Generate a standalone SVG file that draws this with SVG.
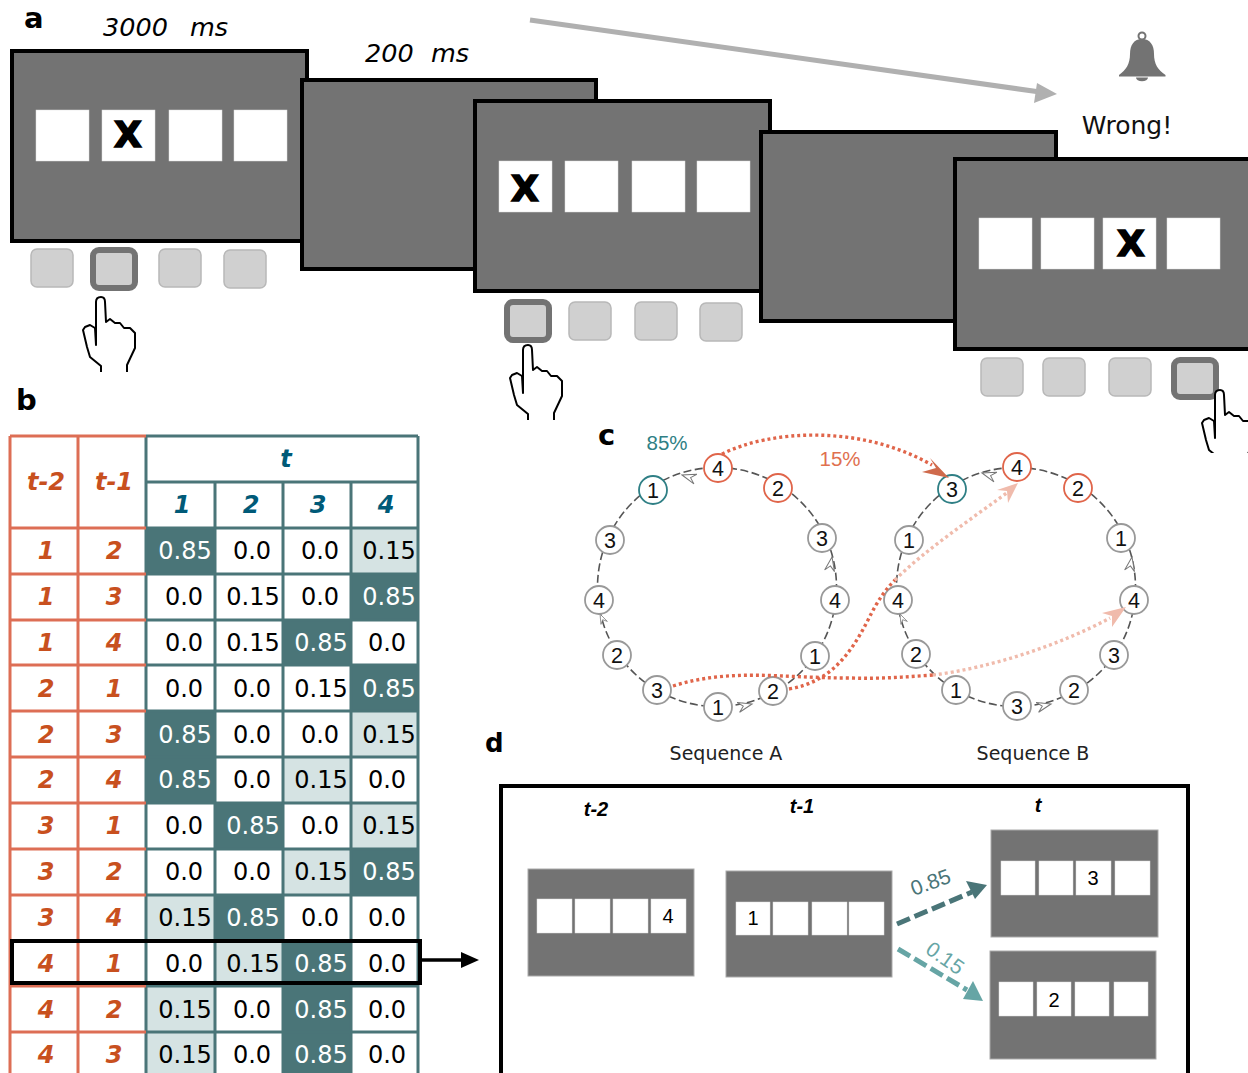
<svg xmlns="http://www.w3.org/2000/svg" width="1248" height="1073" viewBox="0 0 1248 1073">
<style>
text{font-family:"DejaVu Sans",sans-serif}
.scr{fill:#737373;stroke:#000;stroke-width:4}
.sq{fill:#fff;stroke:#ddd;stroke-width:.5}
.x{font-weight:700;font-size:36px;text-anchor:middle;font-family:"DejaVu Sans",sans-serif;stroke:#000;stroke-width:1.6}
.btn{fill:#d0d0d0;stroke:#b8b8b8;stroke-width:1.5}
.sel{fill:#d0d0d0;stroke:#737373;stroke-width:6}
.hand{fill:#fff;stroke:#000;stroke-width:2;stroke-linejoin:round}
.lab{font-weight:700;font-size:29px}
.ms{font-style:italic;font-size:25.5px}
.ring{fill:none;stroke:#555;stroke-width:1.6;stroke-dasharray:8 3.5}
.n{fill:#fff;stroke:#999;stroke-width:1.8}
.nr{fill:#fff;stroke:#e0654a;stroke-width:1.8}
.nt{fill:#fff;stroke:#2f7f85;stroke-width:1.8}
.d{font-family:"Liberation Sans",Arial,sans-serif;font-size:21.5px;text-anchor:middle;fill:#111}
.oa{fill:#fff;stroke:#777;stroke-width:1}
.dot{fill:none;stroke:#e0654a;stroke-width:3.4;stroke-dasharray:3 3}
.pale{fill:none;stroke:#f0bbac;stroke-width:3.4;stroke-dasharray:3 3}
.hr{fill:none;stroke:#dd6e55;stroke-width:3}
.ht{fill:none;stroke:#4a7578;stroke-width:3}
.r{font-weight:700;font-style:italic;font-size:24px;fill:#c8501e;text-anchor:middle}
.b{font-weight:700;font-style:italic;font-size:24px;fill:#005a78;text-anchor:middle}
.v{font-size:24px;text-anchor:middle;fill:#000}
.w{font-size:24px;text-anchor:middle;fill:#fff}
.dk{fill:#4a7578}
.lt{fill:#d5e3e3}
.tl{font-family:"Liberation Sans",Arial,sans-serif;font-weight:700;font-style:italic;font-size:20px;text-anchor:middle}
.pd{font-family:"Liberation Sans",Arial,sans-serif;font-size:20px;text-anchor:middle}
.pc{font-family:"Liberation Sans",Arial,sans-serif;font-size:20.5px;text-anchor:middle}
.pb{font-family:"Liberation Sans",Arial,sans-serif;font-size:21px;text-anchor:middle}
.ds{fill:#737373;stroke:#aaa;stroke-width:1}
.seq{font-size:19px;text-anchor:middle;fill:#222}
</style>
<defs>
<path id="hand" class="hand" d="M101 372V366L90 357L87 347L83 330L85 327L90 325L95 328L96 345V302Q96 297 101 297Q105 297 105 302L106 322L110 319L115 323L120 323L124 328L130 328L135 333V348L127 365V372"/>
<path id="oah" class="oa" d="M0 0L-14 -5L-9 0L-14 5Z"/>
<clipPath id="clip3"><rect x="1150" y="380" width="98" height="73"/></clipPath>
</defs>
<text class="lab" x="24" y="28">a</text>
<text class="ms" x="103" y="36">3000</text><text class="ms" x="190" y="36">ms</text>
<text class="ms" x="365" y="62">200</text><text class="ms" x="431" y="62">ms</text>
<g id="screen-a1"><rect class="scr" x="12" y="51" width="295" height="190"/>
<rect class="sq" x="36" y="110" width="53" height="51"/><rect class="sq" x="102" y="110" width="53" height="51"/><rect class="sq" x="169" y="110" width="53" height="51"/><rect class="sq" x="234" y="110" width="53" height="51"/>
<text class="x" x="128" y="147">X</text></g>
<g id="buttons-a1"><rect class="btn" x="31" y="249" width="42" height="38" rx="6"/><rect class="sel" x="93" y="250" width="42" height="38" rx="6"/><rect class="btn" x="159" y="249" width="42" height="38" rx="6"/><rect class="btn" x="224" y="250" width="42" height="38" rx="6"/>
<use href="#hand"/></g>
<g id="screen-a2"><rect class="scr" x="302" y="80" width="294" height="189"/></g>
<g id="screen-a3"><rect class="scr" x="475" y="101" width="295" height="190"/>
<rect class="sq" x="499" y="161" width="53" height="51"/><rect class="sq" x="565" y="161" width="53" height="51"/><rect class="sq" x="632" y="161" width="53" height="51"/><rect class="sq" x="697" y="161" width="53" height="51"/>
<text class="x" x="525" y="201">X</text></g>
<g id="buttons-a3"><rect class="sel" x="507" y="302" width="42" height="38" rx="6"/><rect class="btn" x="569" y="302" width="42" height="38" rx="6"/><rect class="btn" x="635" y="302" width="42" height="38" rx="6"/><rect class="btn" x="700" y="303" width="42" height="38" rx="6"/>
<use href="#hand" x="427" y="48"/></g>
<g id="screen-a4"><rect class="scr" x="761" y="132" width="295" height="189"/></g>
<g id="screen-a5"><rect class="scr" x="955" y="159" width="300" height="190"/>
<rect class="sq" x="979" y="218" width="53" height="51"/><rect class="sq" x="1041" y="218" width="53" height="51"/><rect class="sq" x="1103" y="218" width="53" height="51"/><rect class="sq" x="1167" y="218" width="53" height="51"/>
<text class="x" x="1131" y="256">X</text></g>
<g id="buttons-a5"><rect class="btn" x="981" y="358" width="42" height="38" rx="6"/><rect class="btn" x="1043" y="358" width="42" height="38" rx="6"/><rect class="btn" x="1109" y="358" width="42" height="38" rx="6"/><rect class="sel" x="1174" y="360" width="42" height="37" rx="6"/>
<g clip-path="url(#clip3)"><use href="#hand" x="1119" y="93"/></g></g>
<g id="alert"><path d="M530 20L1040 92" stroke="#b0b0b0" stroke-width="5" fill="none"/><path d="M1057 94L1034 103L1037 83Z" fill="#b0b0b0"/>
<circle cx="1142" cy="36" r="3.500" fill="#fff" stroke="#737373" stroke-width="2"/>
<path fill="#737373" d="M1142 39C1134 39 1130 45 1130 54C1130 64 1126 70 1119 75V76.500H1165.500V75C1158 70 1154 64 1154 54C1154 45 1150 39 1142 39ZM1136 77.500H1148A6 3.800 0 0 1 1136 77.500Z"/>
<text x="1127" y="134" font-size="25" text-anchor="middle" fill="#111">Wrong!</text></g>

<text class="lab" x="16" y="410">b</text>
<g id="table">
<rect class="dk" x="146" y="528" width="69" height="46"/><rect class="lt" x="351" y="528" width="67" height="46"/>
<rect class="dk" x="351" y="574" width="67" height="46"/>
<rect class="dk" x="283" y="620" width="68" height="46"/>
<rect class="dk" x="351" y="665" width="67" height="46"/>
<rect class="dk" x="146" y="711" width="69" height="46"/><rect class="lt" x="351" y="711" width="67" height="46"/>
<rect class="dk" x="146" y="757" width="69" height="46"/><rect class="lt" x="283" y="757" width="68" height="46"/>
<rect class="dk" x="215" y="803" width="68" height="46"/><rect class="lt" x="351" y="803" width="67" height="46"/>
<rect class="lt" x="283" y="849" width="68" height="46"/><rect class="dk" x="351" y="849" width="67" height="46"/>
<rect class="lt" x="146" y="895" width="69" height="46"/><rect class="dk" x="215" y="895" width="68" height="46"/>
<rect class="lt" x="215" y="941" width="68" height="46"/><rect class="dk" x="283" y="941" width="68" height="46"/>
<rect class="lt" x="146" y="986" width="69" height="46"/><rect class="dk" x="283" y="986" width="68" height="46"/>
<rect class="lt" x="146" y="1032" width="69" height="46"/><rect class="dk" x="283" y="1032" width="68" height="46"/>
<path class="ht" d="M146 436V1078M215 482V1078M283 482V1078M351 482V1078M418 436V1078M146 436H418M146 482H418M146 528H418M146 574H418M146 620H418M146 665H418M146 711H418M146 757H418M146 803H418M146 849H418M146 895H418M146 941H418M146 986H418M146 1032H418"/>
<path class="hr" d="M10 436V1078M78 436V1078M10 436H146M10 528H146M10 574H146M10 620H146M10 665H146M10 711H146M10 757H146M10 803H146M10 849H146M10 895H146M10 941H146M10 986H146M10 1032H146"/>
<text class="b" x="286" y="467">t</text><text class="b" x="182" y="513">1</text><text class="b" x="251" y="513">2</text><text class="b" x="318" y="513">3</text><text class="b" x="386" y="513">4</text>
<text class="r" x="46" y="490">t-2</text><text class="r" x="114" y="490">t-1</text>
<text class="r" x="46" y="559">1</text><text class="r" x="114" y="559">2</text><text class="w" x="185" y="559">0.85</text><text class="v" x="252" y="559">0.0</text><text class="v" x="320" y="559">0.0</text><text class="v" x="389" y="559">0.15</text>
<text class="r" x="46" y="605">1</text><text class="r" x="114" y="605">3</text><text class="v" x="184" y="605">0.0</text><text class="v" x="253" y="605">0.15</text><text class="v" x="320" y="605">0.0</text><text class="w" x="389" y="605">0.85</text>
<text class="r" x="46" y="651">1</text><text class="r" x="114" y="651">4</text><text class="v" x="184" y="651">0.0</text><text class="v" x="253" y="651">0.15</text><text class="w" x="321" y="651">0.85</text><text class="v" x="387" y="651">0.0</text>
<text class="r" x="46" y="697">2</text><text class="r" x="114" y="697">1</text><text class="v" x="184" y="697">0.0</text><text class="v" x="252" y="697">0.0</text><text class="v" x="321" y="697">0.15</text><text class="w" x="389" y="697">0.85</text>
<text class="r" x="46" y="743">2</text><text class="r" x="114" y="743">3</text><text class="w" x="185" y="743">0.85</text><text class="v" x="252" y="743">0.0</text><text class="v" x="320" y="743">0.0</text><text class="v" x="389" y="743">0.15</text>
<text class="r" x="46" y="788">2</text><text class="r" x="114" y="788">4</text><text class="w" x="185" y="788">0.85</text><text class="v" x="252" y="788">0.0</text><text class="v" x="321" y="788">0.15</text><text class="v" x="387" y="788">0.0</text>
<text class="r" x="46" y="834">3</text><text class="r" x="114" y="834">1</text><text class="v" x="184" y="834">0.0</text><text class="w" x="253" y="834">0.85</text><text class="v" x="320" y="834">0.0</text><text class="v" x="389" y="834">0.15</text>
<text class="r" x="46" y="880">3</text><text class="r" x="114" y="880">2</text><text class="v" x="184" y="880">0.0</text><text class="v" x="252" y="880">0.0</text><text class="v" x="321" y="880">0.15</text><text class="w" x="389" y="880">0.85</text>
<text class="r" x="46" y="926">3</text><text class="r" x="114" y="926">4</text><text class="v" x="185" y="926">0.15</text><text class="w" x="253" y="926">0.85</text><text class="v" x="320" y="926">0.0</text><text class="v" x="387" y="926">0.0</text>
<text class="r" x="46" y="972">4</text><text class="r" x="114" y="972">1</text><text class="v" x="184" y="972">0.0</text><text class="v" x="253" y="972">0.15</text><text class="w" x="321" y="972">0.85</text><text class="v" x="387" y="972">0.0</text>
<text class="r" x="46" y="1018">4</text><text class="r" x="114" y="1018">2</text><text class="v" x="185" y="1018">0.15</text><text class="v" x="252" y="1018">0.0</text><text class="w" x="321" y="1018">0.85</text><text class="v" x="387" y="1018">0.0</text>
<text class="r" x="46" y="1063">4</text><text class="r" x="114" y="1063">3</text><text class="v" x="185" y="1063">0.15</text><text class="v" x="252" y="1063">0.0</text><text class="w" x="321" y="1063">0.85</text><text class="v" x="387" y="1063">0.0</text>
<rect x="12" y="941" width="408" height="42" fill="none" stroke="#000" stroke-width="4"/>
<path d="M420 960H464" stroke="#000" stroke-width="3.500"/><path d="M479 960L461 952V968Z" fill="#000"/>
</g>

<text class="lab" x="598" y="445">c</text>
<text class="pc" x="667" y="450" style="fill:#2f7f85">85%</text>
<text class="pc" x="840" y="466" style="fill:#e0704f">15%</text>
<g id="rings"><circle class="ring" cx="717" cy="587" r="119.500"/><circle class="ring" cx="1016" cy="587" r="119.500"/>
<use href="#oah" transform="translate(682 475) rotate(197)"/><use href="#oah" transform="translate(752 704) rotate(-14)"/><use href="#oah" transform="translate(832 557) rotate(-80)"/><use href="#oah" transform="translate(600 614) rotate(-115) scale(.7)"/>
<use href="#oah" transform="translate(982 473) rotate(197)"/><use href="#oah" transform="translate(1051 704) rotate(-14)"/><use href="#oah" transform="translate(1132 557) rotate(-80)"/><use href="#oah" transform="translate(900 614) rotate(-115) scale(.7)"/></g>
<g id="seq-a">
<g id="a-1"><circle class="nt" cx="653" cy="490" r="14"/><text class="d" x="653" y="497.500">1</text></g>
<g id="a-2"><circle class="nr" cx="718" cy="468" r="14"/><text class="d" x="718" y="475.500">4</text></g>
<g id="a-3"><circle class="nr" cx="778" cy="488" r="14"/><text class="d" x="778" y="495.500">2</text></g>
<g id="a-4"><circle class="n" cx="822" cy="538" r="14"/><text class="d" x="822" y="545.500">3</text></g>
<g id="a-5"><circle class="n" cx="835" cy="600" r="14"/><text class="d" x="835" y="607.500">4</text></g>
<g id="a-6"><circle class="n" cx="815" cy="656" r="14"/><text class="d" x="815" y="663.500">1</text></g>
<g id="a-7"><circle class="n" cx="773" cy="691" r="14"/><text class="d" x="773" y="698.500">2</text></g>
<g id="a-8"><circle class="n" cx="718" cy="707" r="14"/><text class="d" x="718" y="714.500">1</text></g>
<g id="a-9"><circle class="n" cx="657" cy="690" r="14"/><text class="d" x="657" y="697.500">3</text></g>
<g id="a-10"><circle class="n" cx="617" cy="655" r="14"/><text class="d" x="617" y="662.500">2</text></g>
<g id="a-11"><circle class="n" cx="599" cy="600" r="14"/><text class="d" x="599" y="607.500">4</text></g>
<g id="a-12"><circle class="n" cx="610" cy="540" r="14"/><text class="d" x="610" y="547.500">3</text></g>
</g>
<g id="seq-b">
<g id="b-1"><circle class="nt" cx="952" cy="489" r="14"/><text class="d" x="952" y="496.500">3</text></g>
<g id="b-2"><circle class="nr" cx="1017" cy="467" r="14"/><text class="d" x="1017" y="474.500">4</text></g>
<g id="b-3"><circle class="nr" cx="1078" cy="488" r="14"/><text class="d" x="1078" y="495.500">2</text></g>
<g id="b-4"><circle class="n" cx="1121" cy="538" r="14"/><text class="d" x="1121" y="545.500">1</text></g>
<g id="b-5"><circle class="n" cx="1134" cy="600" r="14"/><text class="d" x="1134" y="607.500">4</text></g>
<g id="b-6"><circle class="n" cx="1114" cy="655" r="14"/><text class="d" x="1114" y="662.500">3</text></g>
<g id="b-7"><circle class="n" cx="1074" cy="690" r="14"/><text class="d" x="1074" y="697.500">2</text></g>
<g id="b-8"><circle class="n" cx="1017" cy="706" r="14"/><text class="d" x="1017" y="713.500">3</text></g>
<g id="b-9"><circle class="n" cx="956" cy="690" r="14"/><text class="d" x="956" y="697.500">1</text></g>
<g id="b-10"><circle class="n" cx="916" cy="654" r="14"/><text class="d" x="916" y="661.500">2</text></g>
<g id="b-11"><circle class="n" cx="898" cy="600" r="14"/><text class="d" x="898" y="607.500">4</text></g>
<g id="b-12"><circle class="n" cx="909" cy="540" r="14"/><text class="d" x="909" y="547.500">1</text></g>
</g>
<g id="transitions">
<path class="dot" d="M722 454C770 430 860 424 932 465"/><path d="M949 478L922 472L936 468L930 458Z" fill="#cf6a4c"/>
<path class="dot" d="M673 686C730 668 780 678 850 678C880 679 905 677 933 675"/>
<path class="pale" d="M933 675C990 668 1060 645 1110 618"/><path d="M1126 607L1112 627L1112 616L1102 613Z" fill="#f0bbac"/>
<path class="dot" d="M789 689C830 682 850 655 868 620C878 600 885 590 895 580"/>
<path class="pale" d="M895 580C925 550 970 520 1008 492"/><path d="M1018 483L1008 503L1007 491L997 490Z" fill="#f0bbac"/>
</g>
<text class="seq" x="726" y="760">Sequence A</text><text class="seq" x="1033" y="760">Sequence B</text>

<text class="lab" x="485" y="752" style="font-size:26px">d</text>
<g id="panel-d"><rect x="501" y="786" width="687" height="294" fill="none" stroke="#000" stroke-width="4"/>
<text class="tl" x="596" y="816">t-2</text><text class="tl" x="802" y="813">t-1</text><text class="tl" x="1038" y="812">t</text></g>
<g id="d-t2"><rect class="ds" x="528" y="869" width="166" height="107"/><rect class="sq" x="537" y="899" width="35" height="34"/><rect class="sq" x="575" y="899" width="35" height="34"/><rect class="sq" x="613" y="899" width="35" height="34"/><rect class="sq" x="651" y="899" width="35" height="34"/><text class="pd" x="668" y="923">4</text></g>
<g id="d-t1"><rect class="ds" x="726" y="871" width="166" height="106"/><rect class="sq" x="736" y="902" width="34" height="33"/><rect class="sq" x="773" y="902" width="35" height="33"/><rect class="sq" x="812" y="902" width="35" height="33"/><rect class="sq" x="849" y="902" width="35" height="33"/><text class="pd" x="753" y="925">1</text></g>
<g id="d-t-a"><rect class="ds" x="991" y="830" width="167" height="107"/><rect class="sq" x="1001" y="861" width="34" height="34"/><rect class="sq" x="1039" y="861" width="34" height="34"/><rect class="sq" x="1076" y="861" width="35" height="34"/><rect class="sq" x="1115" y="861" width="35" height="34"/><text class="pd" x="1093" y="885">3</text></g>
<g id="d-t-b"><rect class="ds" x="990" y="951" width="166" height="108"/><rect class="sq" x="999" y="982" width="34" height="34"/><rect class="sq" x="1037" y="982" width="34" height="34"/><rect class="sq" x="1075" y="982" width="34" height="34"/><rect class="sq" x="1114" y="982" width="34" height="34"/><text class="pd" x="1054" y="1007">2</text></g>
<g id="d-arrows">
<path d="M897 924L972 892" stroke="#4a7578" stroke-width="5" stroke-dasharray="14 5" fill="none"/><path d="M987 885L975 899L966 881Z" fill="#4a7578"/>
<path d="M898 949L967 990" stroke="#66a5a5" stroke-width="5" stroke-dasharray="14 5" fill="none"/><path d="M983 1001L963 999L973 981Z" fill="#66a5a5"/>
<text class="pb" transform="translate(933 889) rotate(-20)" style="fill:#4a7578">0.85</text>
<text class="pb" transform="translate(941 964) rotate(35)" style="fill:#66a5a5">0.15</text>
</g>
</svg>
